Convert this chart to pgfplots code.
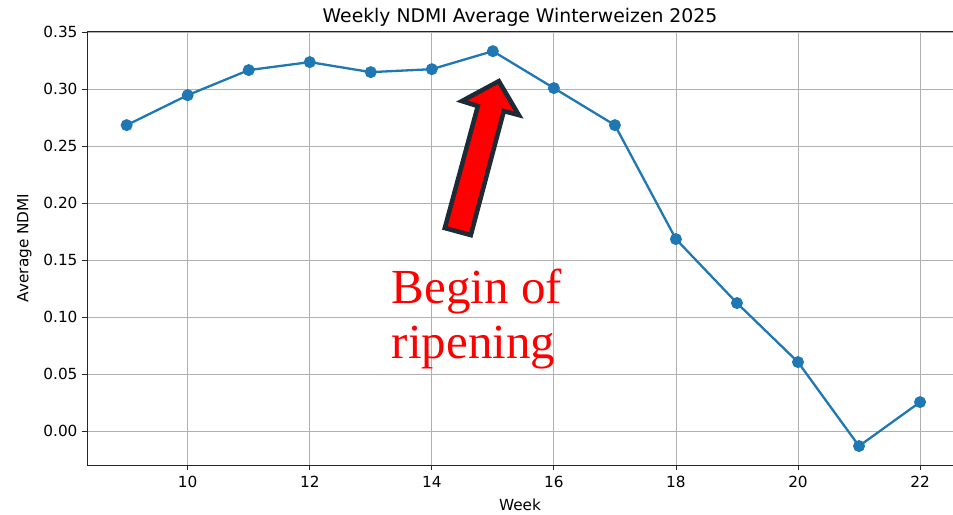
\documentclass[border=0pt]{standalone}
\usepackage{pgfplots}
\pgfplotsset{compat=1.18}
\usepackage{fontspec}
\setmainfont{DejaVu Sans}
\newfontfamily\serifred{Liberation Serif}
\definecolor{mplblue}{HTML}{1F77B4}
\definecolor{gridgray}{HTML}{B0B0B0}
\definecolor{arrowedge}{HTML}{1C2B36}
\begin{document}
\begin{tikzpicture}
\begin{axis}[
  scale only axis,
  width=866bp, height=434bp,
  xmin=8.35, xmax=22.54,
  ymin=-0.0298, ymax=0.351,
  axis x line*=bottom, axis y line*=left,
  axis line style={line width=0.8pt, color=black!85, -},
  xtick={10,12,...,22},
  ytick={0,0.05,...,0.35},
  yticklabel style={xshift=-1bp, /pgf/number format/.cd, fixed, fixed zerofill, precision=2},
  /pgf/number format/assume math mode=true,
  tick align=outside,
  major tick length=5bp,
  tick style={line width=0.8pt, color=black!85},
  grid=major,
  major grid style={line width=0.8pt, color=gridgray},
  ticklabel style={font=\fontsize{15.3bp}{18bp}\selectfont},
  xticklabel style={yshift=-3bp},
  xlabel={Week}, ylabel={Average NDMI},
  label style={font=\fontsize{15.3bp}{18bp}\selectfont},
  xlabel style={yshift=-4bp},
  ylabel style={yshift=5bp},
  title={Weekly NDMI Average Winterweizen 2025},
  title style={font=\fontsize{18.8bp}{22bp}\selectfont, yshift=-5bp},
  clip=false,
]
\draw[line width=0.8pt, color=black!85] (rel axis cs:0,1) -- (rel axis cs:1,1);
\addplot[color=mplblue, line width=2.3bp, mark=*, mark size=4.8bp, mark options={fill=mplblue, draw=mplblue}] coordinates {
(9,0.2684) (10,0.2947) (11,0.3167) (12,0.3237) (13,0.3149) (14,0.3175) (15,0.3333)
(16,0.3009) (17,0.2684) (18,0.1684) (19,0.1123) (20,0.0605) (21,-0.0132) (22,0.0254)
};
\draw[fill=red, draw=arrowedge, line width=4.5bp, line join=miter]
 (axis cs:15.098,0.3070) -- (axis cs:15.426,0.2772) -- (axis cs:15.180,0.2807)
 -- (axis cs:14.639,0.1719) -- (axis cs:14.213,0.1781) -- (axis cs:14.754,0.2851)
 -- (axis cs:14.492,0.2895) -- cycle;
\node[anchor=base west, inner sep=0pt, text=red, font=\serifred\fontsize{49bp}{55bp}\selectfont] at (axis cs:13.344,0.1123) {Begin of};
\node[anchor=base west, inner sep=0pt, text=red, font=\serifred\fontsize{49bp}{55bp}\selectfont] at (axis cs:13.344,0.0640) {ripening};
\end{axis}
\pgfresetboundingbox
\path (current axis.south west) ++(-87bp,-50bp) coordinate (bl);
\path (current axis.north east) ++(0bp,31bp) coordinate (tr);
\path (bl) rectangle (tr);
\end{tikzpicture}
\end{document}
